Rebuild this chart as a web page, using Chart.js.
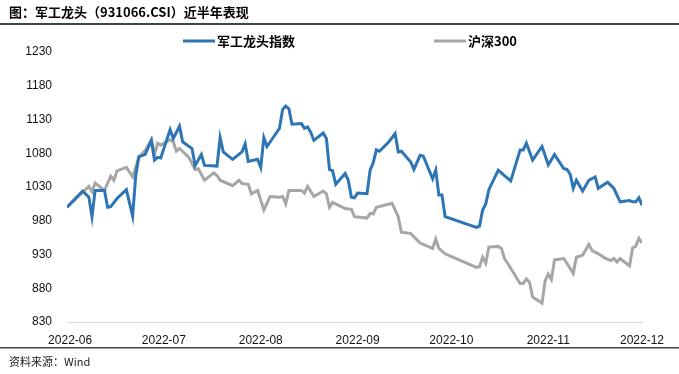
<!DOCTYPE html>
<html>
<head>
<meta charset="utf-8">
<script src="https://cdn.jsdelivr.net/npm/chart.js@4.4.1/dist/chart.umd.min.js"></script>
<style>
  html, body { margin: 0; padding: 0; background: #fff; }
  #wrap { width: 679px; height: 374px; position: relative; }
</style>
</head>
<body>
<div id="wrap"><canvas id="chart" width="679" height="374"></canvas></div>
<script>
const titleText = '图：军工龙头（931066.CSI）近半年表现';
const sourceText = '资料来源：Wind';
const seriesNames = ['军工龙头指数', '沪深300'];

const blueDates = ['2022-05-31', '2022-06-05', '2022-06-07', '2022-06-08', '2022-06-09', '2022-06-12', '2022-06-13', '2022-06-14',
  '2022-06-16', '2022-06-19', '2022-06-21', '2022-06-22', '2022-06-23', '2022-06-25', '2022-06-27', '2022-06-28',
  '2022-06-29', '2022-06-30', '2022-07-03', '2022-07-04', '2022-07-06', '2022-07-07', '2022-07-10', '2022-07-11',
  '2022-07-13', '2022-07-14', '2022-07-18', '2022-07-19', '2022-07-20', '2022-07-23', '2022-07-26', '2022-07-27',
  '2022-07-28', '2022-07-31', '2022-08-01', '2022-08-02', '2022-08-03', '2022-08-07', '2022-08-08', '2022-08-09',
  '2022-08-10', '2022-08-11', '2022-08-14', '2022-08-15', '2022-08-16', '2022-08-17', '2022-08-18', '2022-08-21',
  '2022-08-22', '2022-08-23', '2022-08-24', '2022-08-25', '2022-08-28', '2022-08-29', '2022-08-30', '2022-08-31',
  '2022-09-01', '2022-09-04', '2022-09-05', '2022-09-06', '2022-09-07', '2022-09-08', '2022-09-11', '2022-09-13',
  '2022-09-14', '2022-09-15', '2022-09-18', '2022-09-19', '2022-09-21', '2022-09-22', '2022-09-25', '2022-09-26',
  '2022-09-27', '2022-09-28', '2022-09-29', '2022-10-09', '2022-10-10', '2022-10-11', '2022-10-12', '2022-10-13',
  '2022-10-16', '2022-10-18', '2022-10-20', '2022-10-23', '2022-10-24', '2022-10-25', '2022-10-27', '2022-10-30',
  '2022-11-01', '2022-11-03', '2022-11-06', '2022-11-07', '2022-11-08', '2022-11-09', '2022-11-10', '2022-11-12',
  '2022-11-14', '2022-11-16', '2022-11-17', '2022-11-20', '2022-11-22', '2022-11-24', '2022-11-27', '2022-11-28',
  '2022-11-29', '2022-11-30', '2022-12-01'];
const blueValues = [1000, 1024, 1015, 986, 1025, 1025, 1000, 1001,
  1013, 1026, 987, 1047, 1075, 1078, 1099, 1070,
  1074, 1073, 1115, 1102, 1120, 1097, 1087, 1062,
  1078, 1062, 1061, 1103, 1082, 1071, 1082, 1094,
  1068, 1071, 1059, 1103, 1090, 1117, 1145, 1150,
  1146, 1123, 1124, 1117, 1119, 1111, 1099, 1110,
  1102, 1056, 1054, 1034, 1050, 1040, 1015, 1014,
  1021, 1020, 1055, 1066, 1085, 1083, 1097, 1109,
  1082, 1083, 1067, 1056, 1077, 1076, 1042, 1055,
  1018, 1018, 986, 970, 972, 996, 1005, 1026,
  1055, 1047, 1039, 1085, 1085, 1095, 1070, 1090,
  1063, 1078, 1057, 1056, 1049, 1028, 1040, 1024,
  1040, 1045, 1028, 1037, 1028, 1008, 1010, 1008,
  1008, 1014, 1003];

const grayDates = ['2022-05-31', '2022-06-07', '2022-06-08', '2022-06-09', '2022-06-12', '2022-06-14', '2022-06-15', '2022-06-16',
  '2022-06-19', '2022-06-21', '2022-06-23', '2022-06-25', '2022-06-27', '2022-06-28', '2022-06-29', '2022-06-30',
  '2022-07-03', '2022-07-04', '2022-07-05', '2022-07-06', '2022-07-09', '2022-07-11', '2022-07-12', '2022-07-14',
  '2022-07-17', '2022-07-18', '2022-07-19', '2022-07-23', '2022-07-25', '2022-07-26', '2022-07-28', '2022-07-29',
  '2022-07-31', '2022-08-02', '2022-08-04', '2022-08-07', '2022-08-08', '2022-08-09', '2022-08-10', '2022-08-14',
  '2022-08-15', '2022-08-16', '2022-08-18', '2022-08-21', '2022-08-22', '2022-08-23', '2022-08-24', '2022-08-28',
  '2022-08-30', '2022-08-31', '2022-09-04', '2022-09-05', '2022-09-06', '2022-09-07', '2022-09-12', '2022-09-14',
  '2022-09-15', '2022-09-17', '2022-09-18', '2022-09-21', '2022-09-25', '2022-09-26', '2022-09-27', '2022-09-29',
  '2022-10-09', '2022-10-10', '2022-10-11', '2022-10-12', '2022-10-13', '2022-10-16', '2022-10-17', '2022-10-18',
  '2022-10-19', '2022-10-23', '2022-10-24', '2022-10-25', '2022-10-26', '2022-10-27', '2022-10-30', '2022-10-31',
  '2022-11-01', '2022-11-02', '2022-11-03', '2022-11-06', '2022-11-09', '2022-11-10', '2022-11-12', '2022-11-14',
  '2022-11-15', '2022-11-17', '2022-11-19', '2022-11-21', '2022-11-22', '2022-11-23', '2022-11-24', '2022-11-27',
  '2022-11-28', '2022-11-29', '2022-11-30', '2022-12-01'];
const grayValues = [1000, 1031, 1023, 1036, 1025, 1046, 1040, 1054,
  1059, 1045, 1074, 1084, 1100, 1078, 1095, 1092,
  1100, 1097, 1083, 1087, 1074, 1056, 1057, 1040,
  1051, 1047, 1040, 1032, 1040, 1035, 1034, 1020,
  1025, 996, 1016, 1015, 1016, 1005, 1025, 1025,
  1021, 1031, 1016, 1024, 1020, 1000, 1007, 998,
  997, 986, 984, 991, 990, 1000, 1006, 986,
  963, 962, 961, 947, 939, 953, 939, 931,
  911, 912, 926, 917, 941, 942, 939, 924,
  917, 887, 887, 894, 889, 867, 858, 891,
  901, 893, 922, 924, 902, 926, 929, 945,
  936, 931, 925, 921, 924, 919, 924, 913,
  940, 942, 954, 947];

const monthTicks = ['2022-06-01', '2022-07-01', '2022-08-01', '2022-09-01', '2022-10-01', '2022-11-01', '2022-12-01'];
const monthLabels = ['2022-06', '2022-07', '2022-08', '2022-09', '2022-10', '2022-11', '2022-12'];
const yTicks = [830, 880, 930, 980, 1030, 1080, 1130, 1180, 1230];

const dayZero = Date.UTC(2022, 5, 1);
function toDay(s) {
  const p = s.split('-');
  return (Date.UTC(+p[0], +p[1] - 1, +p[2]) - dayZero) / 86400000;
}
function toPoints(dates, values) {
  return dates.map((d, i) => ({ x: toDay(d), y: values[i] }));
}
const tickDays = monthTicks.map(toDay);

const blue = '#2E75B6';
const gray = '#A6A6A6';
const latin = '"Liberation Sans", Arial, "Noto Sans CJK SC", sans-serif';
const cjk = '"Noto Sans CJK SC", "Liberation Sans", sans-serif';

const decor = {
  id: 'decor',
  afterDraw(chart) {
    const ctx = chart.ctx;
    ctx.save();
    // title
    ctx.fillStyle = '#000';
    ctx.textBaseline = 'middle';
    ctx.textAlign = 'left';
    ctx.font = 'bold 13px ' + cjk;
    ctx.fillText(titleText, 9, 12);
    // rules
    ctx.fillStyle = '#3b4454';
    ctx.fillRect(0, 23, 679, 2);
    ctx.fillRect(0, 347, 679, 1.5);
    // legend
    const items = [[183, blue, seriesNames[0]], [434, gray, seriesNames[1]]];
    items.forEach(([x, c, t]) => {
      ctx.strokeStyle = c;
      ctx.lineWidth = 3;
      ctx.beginPath();
      ctx.moveTo(x, 41);
      ctx.lineTo(x + 32, 41);
      ctx.stroke();
      ctx.fillStyle = '#000';
      ctx.font = 'bold 13px ' + cjk;
      ctx.fillText(t, x + 34, 41);
    });
    // source
    ctx.font = '11px ' + cjk;
    ctx.fillStyle = '#222';
    ctx.fillText(sourceText, 9, 362);
    ctx.restore();
  }
};

new Chart(document.getElementById('chart').getContext('2d'), {
  type: 'line',
  data: {
    datasets: [
      { label: seriesNames[0], data: toPoints(blueDates, blueValues), borderColor: blue, backgroundColor: blue, borderWidth: 3, pointRadius: 0, tension: 0 },
      { label: seriesNames[1], data: toPoints(grayDates, grayValues), borderColor: gray, backgroundColor: gray, borderWidth: 3, pointRadius: 0, tension: 0 }
    ]
  },
  options: {
    responsive: false,
    animation: false,
    events: [],
    layout: { padding: { top: 52, left: 0, right: 37, bottom: 0 } },
    plugins: { legend: { display: false }, tooltip: { enabled: false } },
    scales: {
      x: {
        type: 'linear',
        min: -1,
        max: 183,
        afterBuildTicks: (axis) => { axis.ticks = tickDays.map(v => ({ value: v })); },
        afterFit: (axis) => { axis.height = 52; },
        grid: { display: false, drawTicks: false },
        border: { display: true, color: '#d9d9d9', width: 1 },
        ticks: {
          padding: 11,
          maxRotation: 0,
          autoSkip: false,
          color: '#111',
          font: { family: latin, size: 12 },
          callback: (v) => monthLabels[tickDays.indexOf(v)] || ''
        }
      },
      y: {
        min: 830,
        max: 1230,
        afterBuildTicks: (axis) => { axis.ticks = yTicks.map(v => ({ value: v })); },
        afterFit: (axis) => { axis.width = 67; },
        grid: { display: false, drawTicks: false },
        border: { display: false },
        ticks: {
          padding: 15,
          color: '#111',
          font: { family: latin, size: 12 },
          callback: (v) => String(v)
        }
      }
    }
  },
  plugins: [decor]
});
</script>
</body>
</html>
